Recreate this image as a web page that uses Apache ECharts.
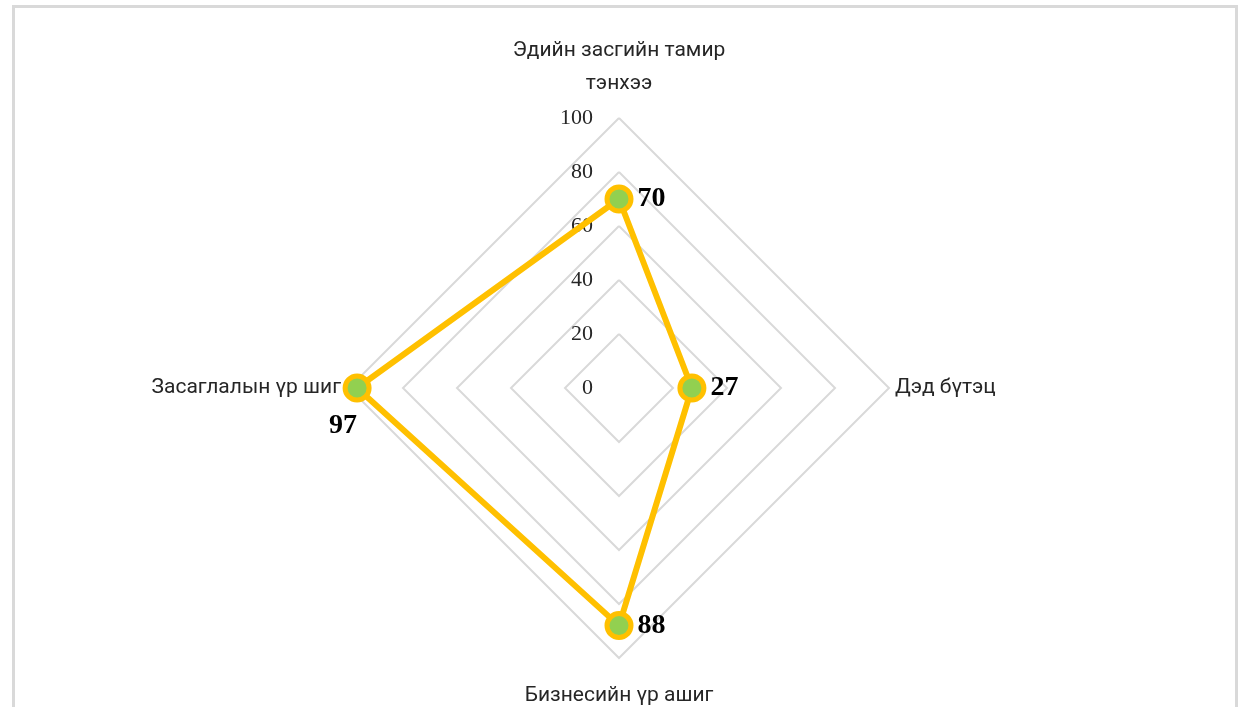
<!DOCTYPE html>
<html lang="mn">
<head>
    <meta charset="UTF-8">
    <title>Radar</title>
    <script src="https://cdn.jsdelivr.net/npm/echarts@6/dist/echarts.min.js"></script>
    <style>
        html, body { margin: 0; padding: 0; background: #fff; }
        #frame {
            position: absolute; left: 12px; top: 5px; width: 1220px; height: 720px;
            border: 3px solid #d9d9d9; border-bottom: none;
        }
        #main { position: absolute; left: 0; top: 0; width: 1250px; height: 707px; }
    </style>
</head>
<body>
<div id="frame"></div>
<div id="main"></div>

<script type="text/javascript">
    // өгөгдөл (ECharts цагийн зүүний эсрэг дараалал: дээд, зүүн, доод, баруун)
    var categories = ['Эдийн засгийн тамир\nтэнхээ', 'Засаглалын үр шиг', 'Бизнесийн үр ашиг', 'Дэд бүтэц'];
    var scores = [70, 97, 88, 27];
    var maxValue = 100;
    var nameGaps = [18, 8, 21, 6]; // нэр тус бүрийн зай
    var belowLeftIdx = 1; // 97-ийн шошго доор зүүн талд

    var myChart = echarts.init(document.getElementById('main'));

    var indicators = categories.map(function (c, i) {
        return {
            name: c,
            max: maxValue,
            min: 0,
            nameGap: nameGaps[i],
            axisLabel: {show: i === 0}
        };
    });

    var labelFont = {
        color: '#000',
        fontFamily: 'Liberation Serif',
        fontWeight: 'bold',
        fontSize: 28
    };

    var option = {
        backgroundColor: 'transparent',
        radar: {
            center: [619, 388],
            radius: 270,
            startAngle: 90,
            shape: 'polygon',
            splitNumber: 5,
            indicator: indicators,
            axisName: {
                color: '#262626',
                fontFamily: 'Roboto',
                fontSize: 21,
                lineHeight: 33
            },
            axisLine: {show: false},
            axisTick: {show: false},
            splitArea: {show: false},
            splitLine: {lineStyle: {color: '#d9d9d9', width: 2}},
            axisLabel: {
                show: false,
                color: '#262626',
                fontFamily: 'Liberation Serif',
                fontSize: 22,
                margin: 26
            }
        },
        series: [
            {
                type: 'radar',
                symbol: 'circle',
                symbolSize: 24,
                lineStyle: {color: '#ffc000', width: 6},
                itemStyle: {color: '#92d050', borderColor: '#ffc000', borderWidth: 5},
                label: echarts.util.extend({
                    show: true,
                    position: 'right',
                    distance: 4,
                    formatter: function (p) {
                        return p.dimensionIndex === belowLeftIdx ? '' : p.value;
                    }
                }, labelFont),
                data: [{value: scores, name: 'Оноо'}],
                z: 3
            },
            { // зөвхөн 97-ийн шошго
                type: 'radar',
                symbol: 'circle',
                symbolSize: 2,
                silent: true,
                lineStyle: {color: 'rgba(0,0,0,0)', width: 0},
                itemStyle: {color: 'rgba(0,0,0,0)', borderWidth: 0},
                label: echarts.util.extend({
                    show: true,
                    position: 'inside',
                    offset: [-14, 38],
                    formatter: function (p) {
                        return p.dimensionIndex === belowLeftIdx ? p.value : '';
                    }
                }, labelFont),
                data: [{value: scores, name: 'Шошго'}],
                z: 4
            }
        ]
    };

    myChart.setOption(option);
</script>
</body>
</html>
